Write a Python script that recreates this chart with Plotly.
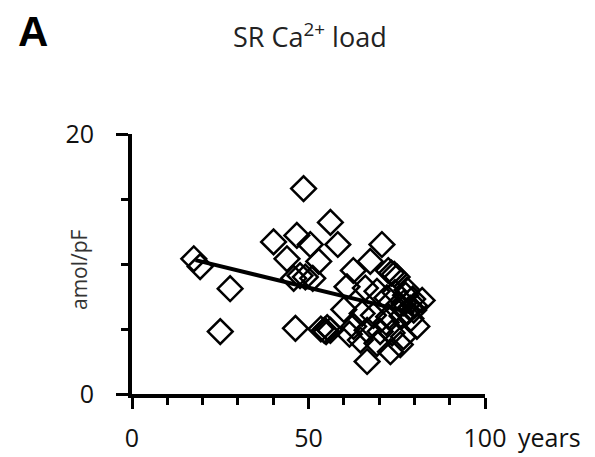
import plotly.graph_objects as go

# Scatter data: age (years) vs SR Ca2+ load (amol/pF)
age = [17.5, 19.3, 27.8, 25.0,
       40.1, 43.9, 46.7, 48.6, 50.5, 52.9, 56.2, 58.3,
       45.8, 47.6, 49.1, 51.2, 46.3,
       53.5, 54.5, 55.3, 56.2, 55.0, 60.0,
       62.7, 67.5, 70.8, 72.6, 73.5, 74.3, 75.1, 60.9, 66.1, 69.4, 77.9, 82.2,
       72.2, 75.6, 78.8, 65.2, 68.4, 72.7, 80.7, 62.8, 66.6, 70.3, 73.7, 76.9,
       64.7, 69.4, 73.2, 76.0, 66.6, 61.6, 72.0, 76.5,
       77.0, 78.0, 79.5, 80.0, 77.5, 74.5, 79.0, 79.8]
load = [10.4, 9.8, 8.1, 4.8,
        11.7, 10.4, 12.2, 15.8, 11.5, 10.2, 13.2, 11.5,
        8.9, 9.1, 9.0, 8.9, 5.05,
        5.0, 4.9, 5.1, 4.9, 4.8, 6.5,
        9.5, 10.2, 11.5, 9.5, 9.3, 9.2, 9.0, 8.25, 8.15, 7.9, 8.0, 7.2,
        7.4, 6.9, 6.6, 6.2, 6.05, 5.95, 5.2, 5.2, 4.9, 4.8, 4.7, 4.4,
        4.15, 3.9, 3.25, 3.8, 2.5, 4.6, 5.5, 6.0,
        7.0, 6.3, 7.3, 6.8, 7.6, 7.8, 5.8, 6.46]

# Regression line endpoints
fit_x = [18.0, 80.0]
fit_y = [10.3, 6.2]

x_tickvals = [0, 50, 100]
x_ticktext = ["0", "50", "100"]
y_tickvals = [0, 20]
y_ticktext = ["0", "20"]

fig = go.Figure()
fig.add_trace(go.Scatter(
    x=age, y=load, mode="markers",
    marker=dict(symbol="diamond-open", size=19, color="black",
                line=dict(width=2.5, color="black")),
    cliponaxis=False, showlegend=False))
fig.add_trace(go.Scatter(
    x=fit_x, y=fit_y, mode="lines",
    line=dict(color="black", width=4), showlegend=False))

tickfont = dict(family="Open Sans", size=25, color="#111")

fig.update_layout(
    width=595, height=457,
    margin=dict(l=132, r=110, t=134, b=63, autoexpand=False),
    paper_bgcolor="white", plot_bgcolor="white",
    xaxis=dict(range=[0, 100], showgrid=False, zeroline=False, automargin=False,
               showline=True, linecolor="black", linewidth=4,
               ticks="outside", ticklen=11, tickwidth=3, tickcolor="black",
               tickvals=x_tickvals, ticktext=x_ticktext, tickfont=tickfont,
               ticklabelstandoff=8,
               minor=dict(dtick=10, ticks="outside", ticklen=7,
                          tickwidth=3, tickcolor="black", showgrid=False)),
    yaxis=dict(range=[0, 20], showgrid=False, zeroline=False, automargin=False,
               showline=True, linecolor="black", linewidth=4,
               ticks="outside", ticklen=12, tickwidth=3, tickcolor="black",
               tickvals=y_tickvals, ticktext=y_ticktext, tickfont=tickfont,
               ticklabelstandoff=17,
               minor=dict(dtick=5, ticks="outside", ticklen=7,
                          tickwidth=3, tickcolor="black", showgrid=False)),
    annotations=[
        dict(text="<b>A</b>", xref="paper", yref="paper",
             x=(16 - 132) / 353, y=(394 - 31) / 260,
             xanchor="left", yanchor="middle", showarrow=False,
             font=dict(family="Liberation Sans", size=42, color="black")),
        dict(text="SR Ca<sup>2+</sup> load", xref="paper", yref="paper",
             x=(310 - 132) / 353, y=(394 - 35) / 260, xanchor="center",
             yanchor="middle", showarrow=False,
             font=dict(family="Open Sans", size=27, color="#222")),
        dict(text="amol/pF", xref="paper", yref="paper",
             x=(79 - 132) / 353, y=(394 - 270) / 260, textangle=-90,
             xanchor="center", yanchor="middle", showarrow=False,
             font=dict(family="Open Sans", size=21, color="#333")),
        dict(text="years", xref="x", yref="paper", x=100, xshift=31,
             y=(394 - 437) / 260, xanchor="left", yanchor="middle",
             showarrow=False, font=tickfont),
    ],
)

fig.write_html("out.html")
